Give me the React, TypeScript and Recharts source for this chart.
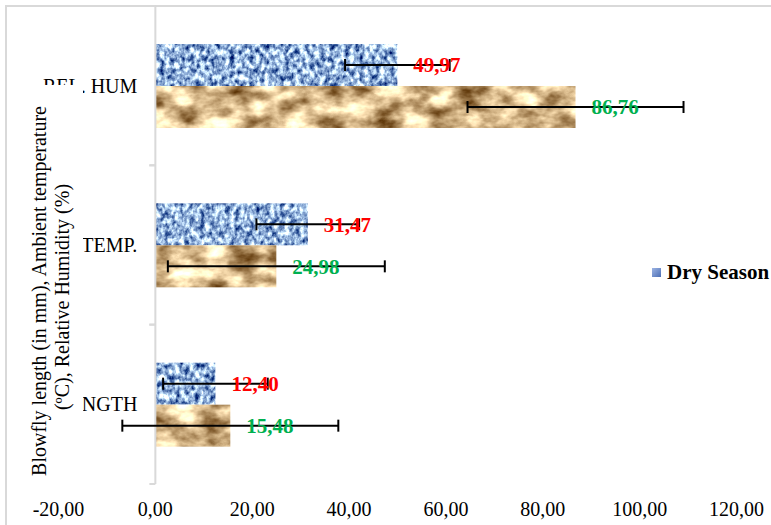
import { BarChart, Bar, XAxis, YAxis, Legend, ErrorBar, LabelList, ReferenceLine } from 'recharts';

const categories = ['REL. HUM', 'TEMP.', 'LENGTH'];
const drySeason = [49.97, 31.47, 12.4];
const rainySeason = [86.76, 24.98, 15.48];
const dryError = [10.8, 10.6, 10.8];
const rainyError = [22.3, 22.4, 22.3];
const xTicks = [-20, 0, 20, 40, 60, 80, 100, 120];

const data = categories.map((name, i) => ({
  name,
  dry: drySeason[i],
  rainy: rainySeason[i],
  dryErr: dryError[i],
  rainyErr: rainyError[i],
}));

const FONT = 'Liberation Serif';
const GRID = '#d9d9d9';

// plot box, used to place the category labels next to the zero line
const PLOT_LEFT = 58.5;
const PLOT_RIGHT = 736.5;
const X_MIN = xTicks[0];
const X_MAX = xTicks[xTicks.length - 1];
const X_ZERO = PLOT_LEFT + ((0 - X_MIN) / (X_MAX - X_MIN)) * (PLOT_RIGHT - PLOT_LEFT);

const fmt = (v: number) => v.toFixed(2).replace('.', ',');

function CategoryTick(props: any) {
  const { y, payload } = props;
  const half = payload?.offset || 79.7;
  return (
    <g>
      <line x1={X_ZERO - 6} x2={X_ZERO} y1={y - half} y2={y - half} stroke={GRID} strokeWidth={2} />
      <line x1={X_ZERO - 6} x2={X_ZERO} y1={y + half} y2={y + half} stroke={GRID} strokeWidth={2} />
      {/* the title box hides part of the labels in the source */}
      <text x={X_ZERO - 18} y={y} dy="0.35em" textAnchor="end" fontFamily={FONT} fontSize={20} fill="#000" clipPath="url(#tickClip)">
        {payload.value}
      </text>
    </g>
  );
}

function AxisTitle() {
  return (
    <g>
      <text x={46} y={291} transform="rotate(-90 46 291)" textAnchor="middle" fontFamily={FONT} fontSize={20} fill="#000">
        Blowfly length (in mm), Ambient temperature
      </text>
      <text x={69} y={297} transform="rotate(-90 69 297)" textAnchor="middle" fontFamily={FONT} fontSize={20} fill="#000">
        (ºC), Relative Humidity (%)
      </text>
    </g>
  );
}

const blueShape = (p: any) => (
  <rect x={p.x} y={p.y} width={p.width} height={p.height} fill="#6f8cc8" filter="url(#linen)" />
);
const tanShape = (p: any) => (
  <rect x={p.x} y={p.y} width={p.width} height={p.height} fill="#c6a676" filter="url(#paper)" />
);

function renderLegend(props: any) {
  const items = (props.payload || []).filter((e: any) => e.type !== 'none');
  return (
    <div>
      {items.map((e: any) => (
        <div key={e.value} style={{ display: 'flex', alignItems: 'center', fontFamily: FONT, fontWeight: 'bold', fontSize: 21, color: '#000', whiteSpace: 'nowrap' }}>
          <span style={{ display: 'inline-block', width: 9, height: 9, marginRight: 6, background: 'linear-gradient(135deg, #9db4e4, #4c6eb4)' }} />
          {e.value}
        </div>
      ))}
    </div>
  );
}

export default function App() {
  return (
    <div style={{ position: 'fixed', left: 0, top: 0, width: 771, height: 525, overflow: 'hidden', background: '#fff' }}>
      <div style={{ position: 'absolute', left: 5, top: 5, width: 900, height: 900, border: `2px solid ${GRID}` }} />
      <div style={{ position: 'absolute', left: 0, top: 0 }}>
        <BarChart
          width={771}
          height={525}
          data={data}
          layout="vertical"
          margin={{ top: 6, right: 771 - PLOT_RIGHT, bottom: 0, left: 0 }}
          barSize={42}
          barGap={0}
        >
          <defs>
            <clipPath id="tickClip">
              <rect x={0} y={0} width={771} height={85} />
              <rect x={83} y={0} width={700} height={525} />
            </clipPath>
            <filter id="linen" colorInterpolationFilters="sRGB">
              <feTurbulence type="fractalNoise" baseFrequency="0.2 0.16" numOctaves={3} seed={4} result="n" />
              <feColorMatrix
                in="n"
                type="matrix"
                values="1.9 0 0 0 -0.38  1.8 0 0 0 -0.21  1.3 0 0 0 0.2  0 0 0 0 1"
                result="c"
              />
              <feComposite in="c" in2="SourceGraphic" operator="in" />
            </filter>
            <filter id="paper" colorInterpolationFilters="sRGB">
              <feTurbulence type="fractalNoise" baseFrequency="0.035 0.06" numOctaves={4} seed={9} result="n" />
              <feColorMatrix
                in="n"
                type="matrix"
                values="1.3 0 0 0 0.2  1.4 0 0 0 0.03  1.4 0 0 0 -0.15  0 0 0 0 1"
                result="c"
              />
              <feComposite in="c" in2="SourceGraphic" operator="in" />
            </filter>
          </defs>
          <XAxis
            type="number"
            domain={[X_MIN, X_MAX]}
            ticks={xTicks}
            tickFormatter={fmt}
            axisLine={false}
            tickLine={false}
            tickSize={0}
            tickMargin={18}
            height={41}
            tick={{ fontFamily: FONT, fontSize: 20, fill: '#000' }}
          />
          <YAxis
            type="category"
            dataKey="name"
            width={PLOT_LEFT}
            axisLine={false}
            tickLine={false}
            tick={<CategoryTick />}
            label={<AxisTitle />}
          />
          <ReferenceLine x={0} stroke={GRID} strokeWidth={2} />
          <Legend
            layout="horizontal"
            verticalAlign="middle"
            align="center"
            content={renderLegend}
            wrapperStyle={{ left: 652, top: 260, width: 130 }}
          />
          <Bar dataKey="dry" name="Dry Season" fill="#6f8cc8" shape={blueShape} isAnimationActive={false}>
            <LabelList dataKey="dry" position="right" offset={16} formatter={(v: any) => fmt(Number(v))} fill="#ff0000" fontFamily={FONT} fontSize={21} fontWeight="bold" />
            <ErrorBar dataKey="dryErr" direction="x" width={6} strokeWidth={2} stroke="#000" />
          </Bar>
          <Bar dataKey="rainy" name="Rainy Season" fill="#c6a676" shape={tanShape} legendType="none" isAnimationActive={false}>
            <LabelList dataKey="rainy" position="right" offset={16} formatter={(v: any) => fmt(Number(v))} fill="#00b050" fontFamily={FONT} fontSize={21} fontWeight="bold" />
            <ErrorBar dataKey="rainyErr" direction="x" width={6} strokeWidth={2} stroke="#000" />
          </Bar>
        </BarChart>
      </div>
    </div>
  );
}
